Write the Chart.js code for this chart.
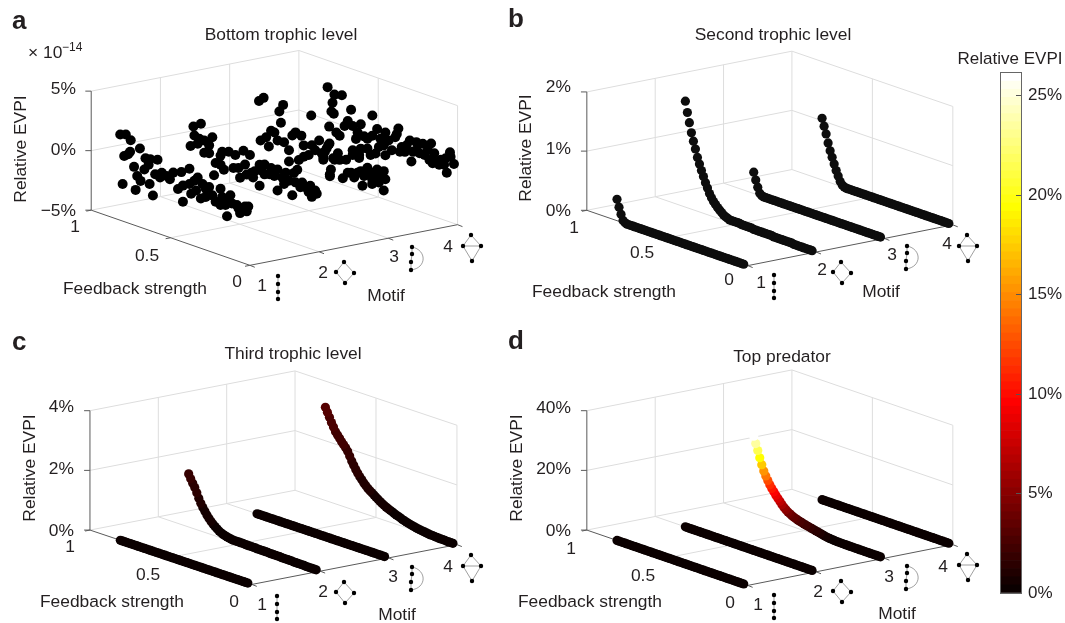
<!DOCTYPE html>
<html>
<head>
<meta charset="utf-8">
<title>Relative EVPI</title>
<script src="https://cdn.jsdelivr.net/npm/chart.js@4/dist/chart.umd.min.js"></script>
<style>
  body { margin: 0; background: #fff; }
  #page { position: relative; width: 1065px; height: 623px; overflow: hidden; }
  canvas { position: absolute; }
</style>
</head>
<body>
<div id="page">
  <canvas id="panel-a" width="490" height="310" style="left:0;top:0"></canvas>
  <canvas id="panel-b" width="490" height="310" style="left:490px;top:0"></canvas>
  <canvas id="panel-c" width="490" height="313" style="left:0;top:310px"></canvas>
  <canvas id="panel-d" width="490" height="313" style="left:490px;top:310px"></canvas>
  <canvas id="colorbar" width="115" height="583" style="left:950px;top:40px"></canvas>
</div>
<script>
const FONT = '"Liberation Sans", Arial, sans-serif';
const TEXT_COLOR = '#231f20';

// feedback strength sampled for the smooth lines of panels b, c, d
const feedback = [
  0.025, 0.0375, 0.05, 0.0625, 0.075, 0.0875, 0.1, 0.1125, 0.125, 0.1375, 0.15, 0.1625, 0.175, 0.1875, 0.2, 0.2125,
  0.225, 0.2375, 0.25, 0.2625, 0.275, 0.2875, 0.3, 0.3125, 0.325, 0.3375, 0.35, 0.3625, 0.375, 0.3875, 0.4, 0.4125,
  0.425, 0.4375, 0.45, 0.4625, 0.475, 0.4875, 0.5, 0.5125, 0.525, 0.5375, 0.55, 0.5625, 0.575, 0.5875, 0.6, 0.6125,
  0.625, 0.6375, 0.65, 0.6625, 0.675, 0.6875, 0.7, 0.7125, 0.725, 0.7375, 0.75, 0.7625, 0.775, 0.7875, 0.8, 0.8125
];

const flatLine = [
  0, 0, 0, 0, 0, 0, 0, 0, 0, 0, 0, 0, 0, 0, 0, 0,
  0, 0, 0, 0, 0, 0, 0, 0, 0, 0, 0, 0, 0, 0, 0, 0,
  0, 0, 0, 0, 0, 0, 0, 0, 0, 0, 0, 0, 0, 0, 0, 0,
  0, 0, 0, 0, 0, 0, 0, 0, 0, 0, 0, 0, 0, 0, 0, 0
];

// panel a: noisy values, feedback and EVPI (in units of 1e-14 %) per motif
const aFeedback1 = [0.817, 0.802, 0.792, 0.782, 0.767, 0.755, 0.751, 0.73, 0.72, 0.71, 0.693, 0.689, 0.665, 0.658, 0.638, 0.632, 0.628, 0.611, 0.597, 0.582, 0.566, 0.555, 0.525, 0.504, 0.483, 0.453, 0.432, 0.422, 0.422, 0.381, 0.381, 0.37, 0.35, 0.339, 0.329, 0.309, 0.298, 0.278, 0.278, 0.257, 0.237, 0.226, 0.216, 0.185, 0.185, 0.175, 0.154, 0.154, 0.144, 0.123, 0.113, 0.082, 0.072, 0.062, 0.051, 0.031, 0.02, 0.01];
const aEVPI1 = [2.2, -1.89, 0.52, 2.37, 0.77, 1.05, 2.02, -0.11, -2.0, -0.78, 1.6, -1.1, -0.03, 0.95, 0.5, -1.1, 1.01, -1.96, -0.12, 1.17, -0.24, 0.21, 0.07, -0.1, 0.55, -0.68, 0.83, -0.26, -1.62, 0.07, 1.35, -0.7, 0.48, -0.29, 0.86, -0.82, 0.45, 0.14, -0.54, 0.38, -0.22, 1.52, -0.66, 0.57, -0.79, -0.07, -0.65, -0.24, -1.55, 0.31, -0.32, -0.32, -0.54, -0.9, -0.44, -0.2, -0.56, -0.11];

const aFeedback2 = [0.81, 0.792, 0.786, 0.765, 0.755, 0.745, 0.724, 0.724, 0.693, 0.693, 0.673, 0.652, 0.621, 0.621, 0.611, 0.6, 0.57, 0.54, 0.528, 0.508, 0.498, 0.477, 0.467, 0.457, 0.436, 0.426, 0.416, 0.406, 0.375, 0.375, 0.365, 0.344, 0.344, 0.313, 0.303, 0.282, 0.262, 0.262, 0.231, 0.221, 0.21, 0.19, 0.169, 0.149, 0.118, 0.107, 0.087, 0.066, 0.056, 0.046, 0.025, 0.015];
const aEVPI2 = [0.13, 1.85, 1.12, 0.54, 0.99, 2.31, 1.0, -0.04, 0.73, 0.06, 1.5, -0.57, -0.56, 0.2, 0.57, -0.88, 0.76, -0.46, 0.68, -0.31, -1.08, 1.27, 0.16, -0.62, 1.11, -0.33, -0.69, -0.11, 0.58, -1.19, 0.14, 0.73, -0.09, 0.06, 0.64, 0.06, 0.7, -1.07, 0.16, -0.33, 0.67, 0.08, -1.04, 0.14, -0.12, 0.33, 0.02, -0.29, 0.29, -0.6, 0.03, -0.19];

const aFeedback3 = [0.815, 0.805, 0.786, 0.77, 0.753, 0.739, 0.718, 0.698, 0.687, 0.677, 0.663, 0.657, 0.626, 0.626, 0.605, 0.595, 0.585, 0.574, 0.564, 0.548, 0.533, 0.533, 0.502, 0.486, 0.482, 0.461, 0.436, 0.42, 0.41, 0.41, 0.4, 0.389, 0.379, 0.371, 0.369, 0.368, 0.362, 0.348, 0.338, 0.318, 0.307, 0.287, 0.266, 0.256, 0.235, 0.225, 0.215, 0.194, 0.184, 0.174, 0.163, 0.153, 0.143, 0.132, 0.122, 0.102, 0.102, 0.091, 0.071, 0.06, 0.06, 0.029, 0.029, 0.019];
const aEVPI3 = [2.75, -0.52, 3.15, -0.09, -0.78, 0.6, 0.56, -0.02, 2.47, 1.57, 3.13, 0.02, -0.51, -1.46, 0.82, -2.27, 1.18, -1.9, -1.04, 1.08, 0.33, -0.62, -0.34, 3.06, 0.57, 0.26, 1.19, 0.19, -0.05, -0.31, 0.41, 0.73, 1.05, 1.23, -1.35, -1.49, -0.91, 0.11, 0.02, 0.66, 0.16, -1.29, 0.36, -0.68, -0.59, 0.95, -0.9, -0.39, 0.88, -0.17, -1.35, -0.48, -0.02, 0.3, -0.2, -0.91, -0.51, 0.08, 0.45, -0.59, 0.09, 0.5, -1.13, -0.13];

const aFeedback4 = [0.819, 0.809, 0.795, 0.788, 0.78, 0.776, 0.764, 0.743, 0.729, 0.712, 0.692, 0.671, 0.661, 0.661, 0.64, 0.63, 0.62, 0.61, 0.61, 0.589, 0.568, 0.568, 0.548, 0.537, 0.537, 0.517, 0.507, 0.496, 0.486, 0.465, 0.455, 0.455, 0.435, 0.414, 0.393, 0.383, 0.373, 0.363, 0.352, 0.332, 0.321, 0.301, 0.291, 0.28, 0.26, 0.26, 0.239, 0.219, 0.208, 0.188, 0.177, 0.167, 0.157, 0.147, 0.147, 0.116, 0.105, 0.085, 0.075, 0.068, 0.048, 0.044, 0.023];
const aEVPI4 = [2.76, -0.51, 0.83, 1.59, 0.71, 2.33, -0.79, -0.97, 2.5, -0.01, 0.5, 1.54, 0.23, -1.81, -0.76, -0.17, -2.02, 0.6, -1.44, -0.31, -1.24, -0.42, -1.69, 1.68, -0.01, -1.41, 0.68, -0.78, -0.04, -0.49, 0.64, -1.27, 0.06, -0.66, 0.52, 0.85, 1.35, -0.56, -0.11, -0.42, 0.18, 0.68, -1.04, -0.18, 0.06, 0.73, -0.11, 0.79, -0.11, 0.39, -0.38, 1.04, -0.56, 0.31, -0.38, -0.5, -0.04, -0.35, 0.24, -0.96, 0.86, 0.51, -0.01];

// panel b: relative EVPI in %
const bEVPI1 = [
  0, 0, 0, 0, 0, 0, 0, 0, 0, 0, 0, 0, 0, 0, 0, 0,
  0, 0, 0, 0, 0, 0, 0, 0, 0, 0, 0, 0, 0, 0, 0, 0,
  0, 0, 0, 0, 0, 0, 0, 0, 0, 0, 0, 0, 0, 0, 0, 0,
  0, 0, 0, 0, 0, 0, 0, 0, 0, 0, 0, 0.01, 0.04, 0.13, 0.24, 0.36
];
const bEVPI2 = [
  0, 0, 0, 0, 0, 0, 0, 0, 0, 0, 0.01, 0.01, 0.01, 0.01, 0.01, 0.01,
  0.01, 0.01, 0.01, 0.01, 0.02, 0.02, 0.02, 0.02, 0.02, 0.02, 0.02, 0.02, 0.02, 0.02, 0.03, 0.03,
  0.03, 0.03, 0.03, 0.03, 0.04, 0.04, 0.04, 0.04, 0.04, 0.04, 0.055, 0.07, 0.09, 0.12, 0.15, 0.18,
  0.22, 0.26, 0.31, 0.37, 0.45, 0.53, 0.62, 0.71, 0.81, 0.91, 1.04, 1.16, 1.29, 1.45, 1.61, 1.79
];
const bEVPI3 = [
  0, 0, 0, 0, 0, 0, 0, 0, 0, 0, 0, 0, 0, 0, 0, 0,
  0, 0, 0, 0, 0, 0, 0, 0, 0, 0, 0, 0, 0, 0, 0, 0,
  0, 0, 0, 0, 0, 0, 0, 0, 0, 0, 0, 0, 0, 0, 0, 0,
  0, 0, 0, 0, 0, 0, 0, 0, 0, 0, 0, 0.01, 0.04, 0.13, 0.24, 0.36
];
const bEVPI4 = [
  0, 0, 0, 0, 0, 0, 0, 0, 0, 0, 0, 0, 0, 0, 0, 0,
  0, 0, 0, 0, 0, 0, 0, 0, 0, 0, 0, 0, 0, 0, 0, 0,
  0, 0, 0, 0, 0, 0, 0, 0, 0, 0, 0, 0, 0, 0, 0, 0,
  0, 0, 0, 0, 0.01, 0.03, 0.08, 0.16, 0.24, 0.34, 0.44, 0.54, 0.66, 0.8, 0.92, 1.04
];

// panel c
const cEVPI1 = flatLine;
const cEVPI2 = [
  0, 0, 0, 0, 0, 0, 0.01, 0.01, 0.01, 0.01, 0.01, 0.01, 0.02, 0.02, 0.02, 0.02,
  0.02, 0.02, 0.03, 0.03, 0.03, 0.03, 0.03, 0.03, 0.04, 0.04, 0.04, 0.04, 0.04, 0.04, 0.05, 0.05,
  0.05, 0.05, 0.05, 0.05, 0.06, 0.06, 0.06, 0.06, 0.06, 0.06, 0.07, 0.085, 0.1, 0.12, 0.14, 0.17,
  0.21, 0.26, 0.31, 0.37, 0.44, 0.52, 0.61, 0.71, 0.81, 0.93, 1.08, 1.24, 1.39, 1.51, 1.64, 1.78
];
const cEVPI3 = flatLine;
const cEVPI4 = [
  0, 0, 0, 0, 0.01, 0.01, 0.01, 0.01, 0.02, 0.02, 0.03, 0.03, 0.04, 0.05, 0.06, 0.07,
  0.08, 0.09, 0.1, 0.12, 0.13, 0.15, 0.17, 0.19, 0.21, 0.23, 0.26, 0.29, 0.31, 0.34, 0.37, 0.4,
  0.43, 0.46, 0.5, 0.54, 0.58, 0.63, 0.68, 0.73, 0.78, 0.83, 0.88, 0.95, 1.02, 1.1, 1.18, 1.28,
  1.38, 1.5, 1.62, 1.76, 1.9, 1.99, 2.07, 2.15, 2.24, 2.33, 2.42, 2.55, 2.68, 2.83, 2.98, 3.12
];

// panel d
const dEVPI1 = flatLine;
const dEVPI2 = flatLine;
const dEVPI3 = [
  0, 0, 0, 0, 0, 0, 0, 0, 0, 0, 0.01, 0.01, 0.01, 0.01, 0.02, 0.02,
  0.03, 0.04, 0.05, 0.06, 0.08, 0.1, 0.13, 0.17, 0.22, 0.28, 0.35, 0.45, 0.6, 0.8, 0.95, 1.1,
  1.25, 1.4, 1.55, 1.7, 1.9, 2.05, 2.2, 2.4, 2.6, 2.8, 3.0, 3.3, 3.6, 4.0, 4.4, 4.9,
  5.5, 6.2, 7.0, 7.8, 8.6, 9.5, 10.4, 11.4, 12.6, 13.9, 15.3, 17.2, 19.3, 21.5, 23.6, 25.8
];
const dEVPI4 = flatLine;

const motifTicks = ['1', '2', '3', '4'];
const feedbackTicks = ['0', '0.5', '1'];
const colorbarTicks = [0, 5, 10, 15, 20, 25];
const colorbarMax = 26.13;

// MATLAB style "hot" colour map
function hotColor(i) {
  const r = i < 24 ? (i + 1) / 24 : 1;
  const g = i < 24 ? 0 : i < 48 ? (i - 23) / 24 : 1;
  const b = i < 48 ? 0 : (i - 47) / 16;
  return `rgb(${Math.round(r * 255)},${Math.round(g * 255)},${Math.round(b * 255)})`;
}
function evpiColor(z) {
  return hotColor(Math.min(63, Math.floor(z / colorbarMax * 64)));
}

// front corner is motif 1, feedback 0, bottom of the z axis
const panels = [
  {
    id: 'panel-a', box: [0, 0, 490, 310], front: [250, 269], mVec: [212, -42], fVec: [-162, -57], zHeight: 123,
    zMin: -5, zMax: 5, zTicks: [-5, 0, 5], zLabels: ['\u22125%', '0%', '5%'], radius: 5,
    letter: ['a', 12, 22], title: ['Bottom trophic level', 281, 35],
    zPos: [76, [211, 150, 89.5]], fPos: [[237, 282], [147, 256], [75, 227]],
    mPos: [[262, 286], [323, 273], [394, 257], [448, 247]],
    fLabel: [135, 289], mLabel: [386, 296], zLabel: [21, 149],
    icons: [[278, 276], [344, 262], [412, 247], [471, 235]],
    series: [[aFeedback1, aEVPI1], [aFeedback2, aEVPI2], [aFeedback3, aEVPI3], [aFeedback4, aEVPI4]],
    color: () => '#000'
  },
  {
    id: 'panel-b', box: [490, 0, 490, 310], front: [748, 269], mVec: [209, -42], fVec: [-164, -57], zHeight: 122,
    zMin: 0, zMax: 2, zTicks: [0, 1, 2], zLabels: ['0%', '1%', '2%'], radius: 4.6,
    letter: ['b', 508, 20], title: ['Second trophic level', 773, 35],
    zPos: [571, [211, 149, 87]], fPos: [[729, 280], [642, 253], [574, 228]],
    mPos: [[761, 283], [822, 270], [892, 255], [947, 244]],
    fLabel: [604, 292], mLabel: [881, 292], zLabel: [526, 148],
    icons: [[774, 275], [841, 262], [907, 246], [967, 235]],
    series: [[feedback, bEVPI1], [feedback, bEVPI2], [feedback, bEVPI3], [feedback, bEVPI4]],
    color: () => '#0d0d0d'
  },
  {
    id: 'panel-c', box: [0, 310, 490, 313], front: [252, 588], mVec: [209, -41], fVec: [-165, -56], zHeight: 123,
    zMin: 0, zMax: 4, zTicks: [0, 2, 4], zLabels: ['0%', '2%', '4%'], radius: 4.6,
    letter: ['c', 12, 343], title: ['Third trophic level', 293, 354],
    zPos: [74, [531, 469, 407]], fPos: [[234, 602], [148, 575], [70, 547]],
    mPos: [[262, 605], [323, 592], [393, 577], [448, 567]],
    fLabel: [112, 602], mLabel: [397, 615], zLabel: [30, 468],
    icons: [[277, 596], [344, 582], [412, 567], [471, 555]],
    series: [[feedback, cEVPI1], [feedback, cEVPI2], [feedback, cEVPI3], [feedback, cEVPI4]],
    color: evpiColor
  },
  {
    id: 'panel-d', box: [490, 310, 490, 313], front: [748, 589], mVec: [209, -42], fVec: [-164, -57], zHeight: 123,
    zMin: 0, zMax: 40, zTicks: [0, 20, 40], zLabels: ['0%', '20%', '40%'], radius: 4.6,
    letter: ['d', 508, 342], title: ['Top predator', 782, 357],
    zPos: [571, [531, 469, 408]], fPos: [[730, 603], [643, 576], [571, 549]],
    mPos: [[758, 605], [818, 592], [889, 577], [943, 567]],
    fLabel: [590, 602], mLabel: [897, 614], zLabel: [517, 468],
    icons: [[774, 595], [841, 581], [907, 566], [967, 554]],
    series: [[feedback, dEVPI1], [feedback, dEVPI2], [feedback, dEVPI3], [feedback, dEVPI4]],
    color: evpiColor
  }
];

// orthographic projection of (motif, feedback, value) on the page plane
function project(p, motif, f, z) {
  const m = (motif - 1) / 3;
  const h = p.zHeight * (z - p.zMin) / (p.zMax - p.zMin);
  return {
    x: p.front[0] + p.mVec[0] * m + p.fVec[0] * f,
    y: p.front[1] + p.mVec[1] * m + p.fVec[1] * f - h
  };
}

function segment(a, b) {
  return [a, b, { x: NaN, y: NaN }];
}

function gridPoints(p) {
  const top = p.zMax, bot = p.zMin, mid = p.zTicks[1];
  const pts = [];
  // floor
  [2, 3].forEach((m) => pts.push(...segment(project(p, m, 0, bot), project(p, m, 1, bot))));
  pts.push(...segment(project(p, 1, 0.5, bot), project(p, 4, 0.5, bot)));
  pts.push(...segment(project(p, 1, 1, bot), project(p, 4, 1, bot)));
  pts.push(...segment(project(p, 4, 1, bot), project(p, 4, 0, bot)));
  // back walls
  [mid, top].forEach((z) => {
    pts.push(...segment(project(p, 1, 1, z), project(p, 4, 1, z)));
    pts.push(...segment(project(p, 4, 1, z), project(p, 4, 0, z)));
  });
  [2, 3, 4].forEach((m) => pts.push(...segment(project(p, m, 1, bot), project(p, m, 1, top))));
  pts.push(...segment(project(p, 4, 0.5, bot), project(p, 4, 0.5, top)));
  pts.push(...segment(project(p, 4, 0, bot), project(p, 4, 0, top)));
  return pts;
}

function axisPoints(p) {
  const bot = p.zMin;
  const pts = [];
  pts.push(...segment(project(p, 1, 1, bot), project(p, 1, 1, p.zMax)));
  pts.push(...segment(project(p, 1, 1, bot), project(p, 1, 0, bot)));
  pts.push(...segment(project(p, 1, 0, bot), project(p, 4, 0, bot)));
  p.zTicks.forEach((z) => {
    const a = project(p, 1, 1, z);
    pts.push(...segment(a, { x: a.x - 6, y: a.y }));
  });
  [0, 0.5, 1].forEach((f) => {
    const a = project(p, 1, f, bot);
    pts.push(...segment(a, { x: a.x - 5, y: a.y + 1 }));
  });
  [1, 2, 3, 4].forEach((m) => {
    const a = project(p, m, 0, bot);
    pts.push(...segment(a, { x: a.x + 5, y: a.y + 2 }));
  });
  return pts;
}

function drawText(ctx, text, x, y, font, align) {
  ctx.font = font;
  ctx.textAlign = align || 'center';
  ctx.textBaseline = 'middle';
  ctx.fillStyle = TEXT_COLOR;
  ctx.fillText(text, x, y);
}

function drawMotifIcon(ctx, motif, x, y) {
  const nodes = [
    [[0, 0], [0, 8], [0, 16], [0, 23]],
    [[0, 0], [-8, 10], [10, 11], [1, 21]],
    [[0, 0], [0, 7], [-1, 15], [-1, 23]],
    [[0, 0], [-8, 11], [10, 11], [1, 26]]
  ][motif - 1];
  ctx.save();
  ctx.translate(x, y);
  ctx.strokeStyle = '#777';
  ctx.lineWidth = 0.7;
  const line = (a, b) => {
    ctx.beginPath();
    ctx.moveTo(nodes[a][0], nodes[a][1]);
    ctx.lineTo(nodes[b][0], nodes[b][1]);
    ctx.stroke();
  };
  if (motif === 2 || motif === 4) {
    line(0, 1); line(0, 2); line(1, 3); line(2, 3);
    if (motif === 4) line(1, 2);
  } else {
    line(0, 1); line(1, 2); line(2, 3);
  }
  if (motif === 3) {
    ctx.beginPath();
    ctx.moveTo(0, 0);
    ctx.bezierCurveTo(15, 3, 15, 21, -1, 23);
    ctx.stroke();
  }
  ctx.fillStyle = '#000';
  nodes.forEach((n) => {
    ctx.beginPath();
    ctx.arc(n[0], n[1], 2.2, 0, Math.PI * 2);
    ctx.fill();
  });
  ctx.restore();
}

// texts and motif icons sit at projected spots no cartesian axis can give
const panelDecor = {
  id: 'panelDecor',
  afterDraw(chart, args, opts) {
    const p = opts.panel;
    const ctx = chart.ctx;
    const [ox, oy] = p.box;
    const base = `17.4px ${FONT}`;
    ctx.save();
    ctx.translate(-ox, -oy);
    drawText(ctx, p.letter[0], p.letter[1], p.letter[2], `bold 26px ${FONT}`, 'left');
    drawText(ctx, p.title[0], p.title[1], p.title[2], base);
    p.zLabels.forEach((t, i) => drawText(ctx, t, p.zPos[0], p.zPos[1][i], base, 'right'));
    feedbackTicks.forEach((t, i) => drawText(ctx, t, p.fPos[i][0], p.fPos[i][1], base));
    motifTicks.forEach((t, i) => drawText(ctx, t, p.mPos[i][0], p.mPos[i][1], base));
    drawText(ctx, 'Feedback strength', p.fLabel[0], p.fLabel[1], base);
    drawText(ctx, 'Motif', p.mLabel[0], p.mLabel[1], base);
    ctx.save();
    ctx.translate(p.zLabel[0], p.zLabel[1]);
    ctx.rotate(-Math.PI / 2);
    drawText(ctx, 'Relative EVPI', 0, 0, base);
    ctx.restore();
    if (p.id === 'panel-a') {
      drawText(ctx, '\u00d7 10', 28, 53, base, 'left');
      drawText(ctx, '\u221214', 62, 48, `12px ${FONT}`, 'left');
    }
    p.icons.forEach((c, i) => drawMotifIcon(ctx, i + 1, c[0], c[1]));
    ctx.restore();
  }
};

function buildPanel(p) {
  const datasets = p.series.map(([fs, zs], i) => ({
    label: `Motif ${motifTicks[i]}`,
    data: zs.map((z, k) => project(p, i + 1, fs[k], z)),
    pointRadius: p.radius,
    pointBorderWidth: 0,
    pointBackgroundColor: zs.map((z) => p.color(z)),
    showLine: false,
    order: i,
    clip: false
  }));
  datasets.push({
    label: 'axes', data: axisPoints(p), showLine: true, pointRadius: 0,
    borderColor: '#5a5a5a', borderWidth: 1, order: 10, clip: false
  });
  datasets.push({
    label: 'grid', data: gridPoints(p), showLine: true, pointRadius: 0,
    borderColor: '#dddddd', borderWidth: 1, order: 11, clip: false
  });

  const [ox, oy, w, h] = p.box;
  new Chart(document.getElementById(p.id), {
    type: 'scatter',
    data: { datasets },
    options: {
      responsive: false,
      animation: false,
      devicePixelRatio: 1,
      events: [],
      layout: { padding: 0 },
      scales: {
        x: { type: 'linear', display: false, min: ox, max: ox + w },
        y: { type: 'linear', display: false, min: oy, max: oy + h, reverse: true }
      },
      plugins: {
        legend: { display: false },
        tooltip: { enabled: false },
        panelDecor: { panel: p }
      }
    },
    plugins: [panelDecor]
  });
}

panels.forEach(buildPanel);

// colour bar: 64 stacked cells on a real linear axis
const colorbarFrame = {
  id: 'colorbarFrame',
  afterDraw(chart) {
    const { ctx, chartArea: a } = chart;
    ctx.save();
    ctx.strokeStyle = '#666';
    ctx.lineWidth = 1;
    ctx.strokeRect(a.left - 0.5, a.top - 0.5, a.right - a.left + 1, a.bottom - a.top + 1);
    const yScale = chart.scales.y;
    ctx.strokeStyle = '#555';
    colorbarTicks.forEach((t) => {
      const y = Math.round(yScale.getPixelForValue(t)) + 0.5;
      if (t === 0) return;
      ctx.beginPath();
      ctx.moveTo(a.right - 5, y);
      ctx.lineTo(a.right, y);
      ctx.stroke();
    });
    drawText(ctx, 'Relative EVPI', 60, 19, `17px ${FONT}`);
    ctx.restore();
  }
};

new Chart(document.getElementById('colorbar'), {
  type: 'bar',
  data: {
    labels: ['EVPI'],
    datasets: Array.from({ length: 64 }, (_, i) => ({
      data: [colorbarMax / 64],
      backgroundColor: hotColor(i),
      borderWidth: 0
    }))
  },
  options: {
    responsive: false,
    animation: false,
    devicePixelRatio: 1,
    events: [],
    layout: { padding: { left: 51, top: 33, bottom: 30, right: 0 } },
    datasets: { bar: { barPercentage: 1, categoryPercentage: 1 } },
    scales: {
      x: { stacked: true, display: false },
      y: {
        stacked: true,
        position: 'right',
        min: 0,
        max: colorbarMax,
        afterFit(scale) { scale.width = 44; },
        afterBuildTicks(scale) { scale.ticks = colorbarTicks.map((value) => ({ value })); },
        grid: { drawOnChartArea: false, drawTicks: false },
        border: { display: false },
        ticks: {
          padding: 7,
          color: TEXT_COLOR,
          font: { family: FONT, size: 17 },
          callback: (v) => `${v}%`
        }
      }
    },
    plugins: { legend: { display: false }, tooltip: { enabled: false } }
  },
  plugins: [colorbarFrame]
});
</script>
</body>
</html>
